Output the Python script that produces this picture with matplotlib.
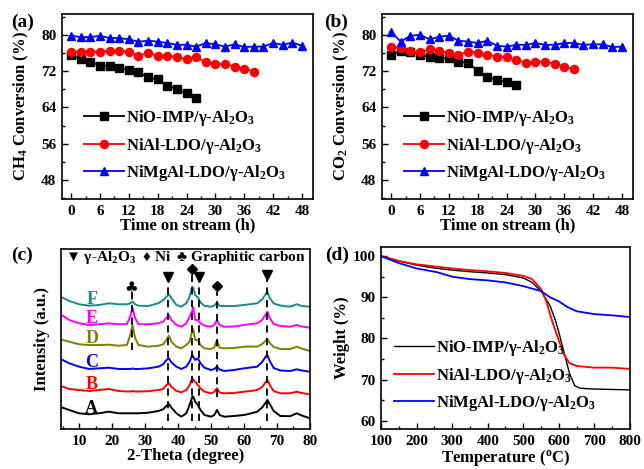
import numpy as np
import matplotlib
matplotlib.use("Agg")
import matplotlib.pyplot as plt
from matplotlib.ticker import MultipleLocator

# ------------------------------------------------------------------------------
# Fonts
# ------------------------------------------------------------------------------
plt.rcParams["font.family"] = ["Liberation Serif", "DejaVu Sans"]
plt.rcParams["font.weight"] = "bold"
plt.rcParams["mathtext.fontset"] = "custom"
plt.rcParams["mathtext.rm"] = "Liberation Serif:bold"
plt.rcParams["mathtext.it"] = "Liberation Serif:bold:italic"
plt.rcParams["mathtext.bf"] = "Liberation Serif:bold"
plt.rcParams["axes.linewidth"] = 1.2

# ------------------------------------------------------------------------------
# Data
# ------------------------------------------------------------------------------
labels = [r"NiO-IMP/γ-Al$_2$O$_3$", r"NiAl-LDO/γ-Al$_2$O$_3$", r"NiMgAl-LDO/γ-Al$_2$O$_3$"]
colors = ["#000000", "#ff0000", "#0000ff"]
markers = ["s", "o", "^"]

# (a) CH4 conversion
t_imp = [0, 2, 4, 6, 8, 10, 12, 14, 16, 18, 20, 22, 24, 26]
t_nial = [0, 2, 4, 6, 8, 10, 12, 14, 16, 18, 20, 22, 24, 26, 28, 30, 32, 34, 36, 38]
t_nimg = [0, 2, 4, 6, 8, 10, 12, 14, 16, 18, 20, 22, 24, 26, 28, 30, 32, 34, 36,
          38, 40, 42, 44, 46, 48]
ch4_imp = [75.6, 74.6, 74.1, 73.2, 73.2, 72.6, 72.3, 71.8, 70.6, 70.2, 68.8, 68.0, 67.1, 66.0]
ch4_nial = [76.3, 76.3, 76.3, 76.3, 76.5, 76.5, 76.3, 75.4, 76.0, 75.4, 75.4, 75.1, 74.6,
            75.1, 74.0, 73.6, 73.6, 73.0, 72.5, 71.9]
ch4_nimg = [79.8, 79.5, 79.5, 79.8, 79.3, 79.3, 79.0, 78.5, 78.7, 78.5, 78.2, 77.8, 77.8,
            77.4, 78.2, 77.9, 77.4, 77.9, 77.3, 77.4, 77.4, 78.2, 77.8, 78.3, 77.6]

# (b) CO2 conversion
co2_imp = [75.6, 76.5, 76.3, 75.6, 75.1, 74.9, 74.9, 74.1, 73.8, 72.1, 70.7, 70.1, 69.7, 69.0]
co2_nial = [77.4, 77.1, 76.5, 76.2, 76.8, 76.5, 76.0, 75.6, 76.3, 76.1, 75.6, 75.2, 75.1,
            74.5, 73.8, 74.1, 74.1, 73.6, 73.0, 72.4]
co2_nimg = [80.6, 78.5, 79.8, 80.0, 79.0, 79.6, 79.8, 78.7, 78.5, 78.2, 78.7, 77.6, 77.4,
            77.8, 77.8, 78.2, 77.8, 77.8, 78.2, 78.2, 77.8, 77.9, 77.9, 77.3, 77.4]

# (c) XRD patterns, intensity in a.u. (already stacked)
two_theta = [5, 7, 10, 13, 16, 19, 22, 24.5, 25.5, 26.2, 27, 28, 31, 34, 35.5, 36.5, 37.2,
             38, 39.5, 41, 42.5, 43.5, 44.3, 44.6, 45.2, 46, 46.8, 48, 50, 51, 51.8, 52.6,
             54, 57, 60, 62, 64, 65.5, 66.5, 67.1, 67.8, 69, 71, 74, 76, 77.5, 80]
xrd_A = [21.3, 19.0, 15.7, 14.7, 15.7, 17.3, 15.7, 15.7, 15.7, 15.7, 15.7, 15.7, 16.3, 18.0,
         19.7, 23.3, 25.0, 21.3, 15.7, 12.3, 15.7, 24.0, 32.0, 32.5, 27.3, 24.0, 19.0, 14.0,
         12.3, 14.0, 19.0, 14.0, 12.3, 13.0, 14.0, 15.5, 17.3, 21.5, 26.0, 29.0, 25.0, 18.0,
         13.0, 12.8, 15.7, 13.5, 10.7]
xrd_B = [42.3, 40.0, 39.0, 38.0, 39.0, 40.0, 38.0, 37.5, 37.5, 38.0, 37.5, 37.5, 37.8, 39.0,
         40.0, 44.0, 45.7, 42.3, 38.0, 36.7, 39.0, 44.0, 50.7, 49.0, 47.3, 44.0, 40.7, 37.3,
         35.7, 37.0, 40.7, 36.5, 35.7, 36.0, 37.3, 38.0, 39.0, 42.0, 46.5, 49.0, 44.0, 38.0,
         35.7, 35.7, 37.3, 36.0, 34.7]
xrd_C = [69.0, 65.7, 62.3, 60.0, 60.7, 61.3, 60.0, 60.0, 60.0, 60.5, 60.0, 60.0, 60.7, 62.3,
         64.7, 69.0, 70.7, 66.7, 62.3, 60.0, 62.3, 67.3, 74.0, 72.3, 69.0, 70.7, 65.7, 61.3,
         59.0, 60.0, 62.3, 59.5, 58.0, 59.0, 60.7, 61.5, 62.3, 67.0, 72.0, 74.0, 68.0, 61.0,
         58.5, 58.0, 59.7, 58.5, 57.3]
xrd_D = [89.0, 87.3, 84.7, 84.0, 84.0, 84.3, 83.3, 84.0, 94.0, 104.0, 90.7, 84.0, 82.3, 83.3,
         84.7, 89.0, 93.3, 87.3, 82.3, 80.7, 84.0, 87.3, 98.0, 100.0, 89.0, 89.0, 84.0, 80.7,
         80.0, 81.5, 89.0, 81.3, 80.7, 81.0, 82.3, 82.5, 82.3, 85.0, 88.0, 90.0, 86.0, 82.0,
         80.0, 80.0, 82.3, 80.5, 78.0]
xrd_E = [113.3, 109.0, 105.7, 104.0, 104.7, 105.7, 104.7, 105.0, 112.3, 121.3, 110.7, 104.7,
         104.7, 105.7, 107.3, 111.3, 114.0, 109.0, 104.0, 102.3, 105.7, 112.3, 118.0, 122.0,
         109.0, 109.0, 105.7, 103.3, 102.3, 104.0, 109.0, 104.0, 102.3, 102.5, 104.0, 105.0,
         105.7, 109.0, 114.0, 117.3, 111.0, 105.0, 103.0, 102.3, 104.0, 102.5, 101.3]
xrd_F = [131.3, 128.0, 124.7, 123.3, 124.0, 125.7, 124.7, 124.7, 125.7, 127.5, 124.7, 123.3,
         123.0, 125.7, 129.0, 132.3, 134.7, 130.7, 124.0, 122.3, 125.7, 132.3, 142.3, 141.0,
         134.0, 131.5, 126.7, 123.0, 122.3, 123.5, 126.7, 123.0, 123.0, 123.0, 124.0, 124.8,
         125.7, 129.5, 134.5, 137.3, 131.0, 125.5, 123.5, 122.3, 124.7, 123.0, 122.3]
xrd_names = ["A", "B", "C", "D", "E", "F"]
xrd_colors = ["#000000", "#ff0000", "#0000ff", "#808000", "#ff00ff", "#1a8a8a"]

# peak markers
peak_al2o3 = [37.0, 46.3, 66.9]
peak_ni = [44.2, 51.7]
peak_c = [25.9]

# (d) TGA
temp_imp = [100, 150, 200, 250, 300, 350, 400, 450, 500, 525, 550, 575, 590, 600, 615, 630,
            645, 660, 700, 800]
w_imp = [100, 98.8, 97.8, 97.1, 96.6, 96.2, 95.9, 95.5, 94.7, 93.6, 91.5, 88.0, 84.5, 81.5,
         76.5, 71.5, 68.5, 67.9, 67.7, 67.5]
temp_nial = [100, 150, 200, 250, 300, 350, 400, 450, 500, 525, 550, 565, 580, 600, 615, 630,
             650, 700, 750, 800]
w_nial = [100, 98.8, 98.0, 97.5, 97.0, 96.6, 96.3, 95.9, 95.2, 94.4, 92.0, 89.0, 84.5, 79.5,
          76.0, 74.0, 73.3, 72.9, 72.9, 72.6]
temp_nimg = [100, 150, 200, 257, 300, 350, 400, 450, 500, 550, 575, 600, 625, 650, 700, 750, 800]
w_nimg = [100, 98.3, 97.0, 96.1, 95.0, 94.4, 94.1, 93.6, 92.7, 91.5, 90.0, 89.0, 87.6, 86.6,
          85.9, 85.6, 85.2]

# ------------------------------------------------------------------------------
# Figure
# ------------------------------------------------------------------------------
fig = plt.figure(figsize=(6.44, 4.69), dpi=100)
ax_a = fig.add_axes([0.0963, 0.5757, 0.3897, 0.3945])
ax_b = fig.add_axes([0.5932, 0.5757, 0.3897, 0.3945])
ax_c = fig.add_axes([0.0947, 0.0853, 0.3866, 0.3838])
ax_d = fig.add_axes([0.5916, 0.0853, 0.3866, 0.3880])

TICK = 11
LAB = 12
LEG = 12


def style(ax):
    ax.tick_params(which="both", direction="in", labelsize=TICK, width=1, pad=4)
    ax.tick_params(which="major", length=4)
    ax.tick_params(which="minor", length=2.5)
    for lbl in ax.get_xticklabels() + ax.get_yticklabels():
        lbl.set_fontweight("bold")


times = [t_imp, t_nial, t_nimg]
for ax, series, ylab in [
    (ax_a, [ch4_imp, ch4_nial, ch4_nimg], r"CH$_4$ Conversion (%)"),
    (ax_b, [co2_imp, co2_nial, co2_nimg], r"CO$_2$ Conversion (%)"),
]:
    for t, y, c, m, lab in zip(times, series, colors, markers, labels):
        ax.plot(t, y, color=c, marker=m, ms=5.8, lw=1.3, label=lab)
    ax.set_xlim(-1.9, 50.3)
    ax.set_ylim(43.8, 84.6)
    ax.xaxis.set_major_locator(MultipleLocator(6))
    ax.xaxis.set_minor_locator(MultipleLocator(3))
    ax.yaxis.set_major_locator(MultipleLocator(8))
    ax.yaxis.set_minor_locator(MultipleLocator(4))
    ax.set_xlabel("Time on stream (h)", fontsize=LAB, fontweight="bold", labelpad=0)
    ax.set_ylabel(ylab, fontsize=LAB, fontweight="bold", labelpad=7)
    style(ax)
    ax.legend(loc="lower left", bbox_to_anchor=(0.06, 0.05), frameon=False,
              handlelength=2.4, handletextpad=0.15, labelspacing=0.45,
              borderaxespad=0, prop={"weight": "bold", "size": LEG})

# (c) XRD
for y, c, name in zip([xrd_A, xrd_B, xrd_C, xrd_D, xrd_E, xrd_F], xrd_colors, xrd_names):
    ax_c.plot(two_theta, y, color=c, lw=1.4)
    ax_c.text(13.8, y[3] + 6, name, color=c, fontsize=13, fontweight="bold",
              ha="center", va="center")

# dashed guide lines and peak markers
for x0, top, bottom in [(37.0, 146, 8), (44.2, 154, 8), (46.3, 146, 8), (51.7, 137, 32),
                        (66.9, 149, 8), (25.9, 137, 79)]:
    ax_c.plot([x0, x0], [bottom, top], color="k", ls=(0, (4, 3)), lw=1.3)
ax_c.plot(peak_al2o3, [151.5, 151.5, 154], "v", color="k", ms=7.5)
ax_c.plot(peak_ni, [160, 142.5], "D", color="k", ms=5.5)
for x0 in peak_c:
    ax_c.text(x0, 142, "♣", ha="center", va="center", fontsize=11,
              family=["DejaVu Sans"])
ax_c.text(0.5, 0.955, r"▼ γ-Al$_2$O$_3$  ♦ Ni  ♣ Graphitic carbon", transform=ax_c.transAxes,
          ha="center", va="center", fontsize=11, fontweight="bold",
          family=["Liberation Serif", "DejaVu Sans"])
ax_c.set_xlim(4.5, 80)
ax_c.set_ylim(0, 180)
ax_c.xaxis.set_major_locator(MultipleLocator(10))
ax_c.xaxis.set_minor_locator(MultipleLocator(5))
ax_c.set_yticks([])
ax_c.set_xlabel("2-Theta (degree)", fontsize=LAB, fontweight="bold", labelpad=0)
ax_c.set_ylabel("Intensity (a.u.)", fontsize=LAB, fontweight="bold", labelpad=8)
style(ax_c)

# (d) TGA
for t, w, c, lab in zip([temp_imp, temp_nial, temp_nimg], [w_imp, w_nial, w_nimg], colors, labels):
    ax_d.plot(t, w, color=c, lw=1.3 if c != "#000000" else 1.0, label=lab)
ax_d.set_xlim(100, 800)
ax_d.set_ylim(58, 102.2)
ax_d.xaxis.set_major_locator(MultipleLocator(100))
ax_d.xaxis.set_minor_locator(MultipleLocator(50))
ax_d.yaxis.set_major_locator(MultipleLocator(10))
ax_d.yaxis.set_minor_locator(MultipleLocator(5))
ax_d.set_xlabel(r"Temperature ($^{\mathrm{o}}$C)", fontsize=LAB, fontweight="bold", labelpad=0)
ax_d.set_ylabel("Weight (%)", fontsize=LAB, fontweight="bold", labelpad=2)
style(ax_d)
ax_d.legend(loc="lower left", bbox_to_anchor=(0.025, 0.05), frameon=False,
            handlelength=2.4, handletextpad=0.15, labelspacing=0.45, borderaxespad=0,
            prop={"weight": "bold", "size": LEG})

# panel tags
for x, y, tag in [(0.018, 0.953, "(a)"), (0.503, 0.953, "(b)"),
                  (0.018, 0.455, "(c)"), (0.505, 0.455, "(d)")]:
    fig.text(x, y, tag, fontsize=14, fontweight="bold", va="center")

fig.savefig("out.png", dpi=100)
